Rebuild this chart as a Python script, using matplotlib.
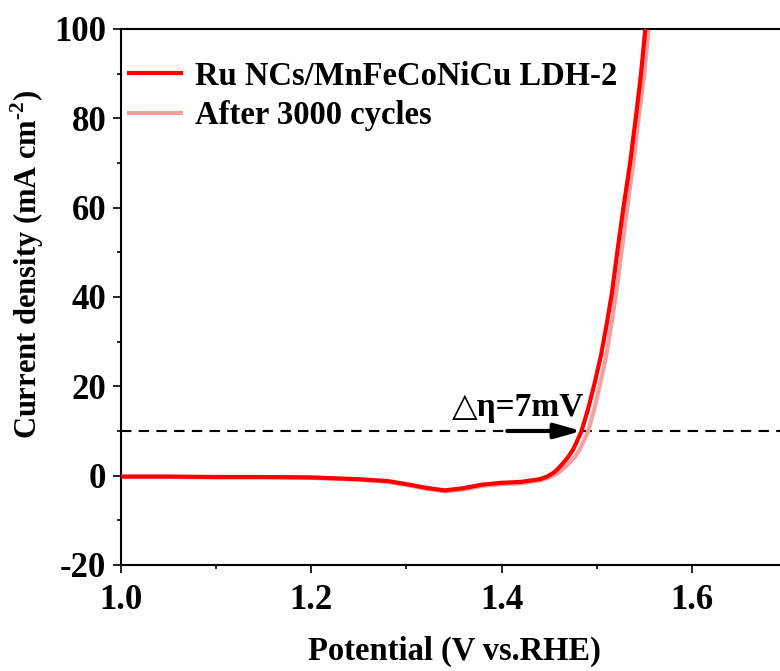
import matplotlib
matplotlib.use("Agg")
import matplotlib.pyplot as plt
from matplotlib.ticker import MultipleLocator

plt.rcParams["font.family"] = ["Liberation Serif", "DejaVu Serif"]
plt.rcParams["font.weight"] = "bold"
plt.rcParams["mathtext.fontset"] = "custom"
plt.rcParams["mathtext.rm"] = "Liberation Serif:bold"
plt.rcParams["mathtext.bf"] = "Liberation Serif:bold"
plt.rcParams["axes.unicode_minus"] = False

# LSV polarization curves, potential in V vs. RHE, current in mA cm^-2
pot_fresh = [1.00, 1.05, 1.10, 1.15, 1.20, 1.25, 1.28, 1.30, 1.32, 1.34, 1.36,
             1.38, 1.40, 1.42, 1.44, 1.448, 1.455, 1.46, 1.465, 1.47, 1.475,
             1.479, 1.484, 1.491, 1.4975, 1.5045, 1.5105, 1.516, 1.5215, 1.528,
             1.535, 1.5415, 1.5465, 1.551]
cur_fresh = [-0.2, -0.2, -0.3, -0.3, -0.4, -0.8, -1.2, -1.9, -2.7, -3.3, -2.8,
             -2.0, -1.6, -1.4, -0.8, -0.2, 0.7, 1.7, 2.9, 4.2, 5.8,
             7.6, 10.0, 15.0, 20.5, 27.0, 34.0, 41.0, 50.0, 60.0,
             70.0, 81.0, 90.0, 100.0]

pot_cycled = [1.00, 1.05, 1.10, 1.15, 1.20, 1.25, 1.28, 1.30, 1.32, 1.34, 1.36,
              1.38, 1.40, 1.42, 1.44, 1.450, 1.458, 1.465, 1.471, 1.477, 1.482,
              1.486, 1.491, 1.4975, 1.5035, 1.510, 1.5155, 1.5205, 1.526, 1.532,
              1.5385, 1.5445, 1.550, 1.5545]
cur_cycled = [-0.3, -0.3, -0.4, -0.4, -0.5, -0.9, -1.4, -2.1, -2.9, -3.5, -3.1,
              -2.3, -1.9, -1.7, -1.1, -0.4, 0.4, 1.6, 2.8, 4.2, 5.8,
              7.6, 10.0, 15.0, 20.5, 27.0, 34.0, 41.0, 50.0, 60.0,
              70.0, 81.0, 90.0, 100.0]

labels = ["Ru NCs/MnFeCoNiCu LDH-2", "After 3000 cycles"]
colors = ["#FF0000", "#F4A0A0"]

j_ref = 10.0           # reference current density for overpotential
eta_start = 1.406      # arrow tail
eta_end = 1.484        # arrow head (fresh curve at 10 mA cm^-2)

fig = plt.figure(figsize=(7.8, 6.71), dpi=100)
ax = fig.add_axes([0.1551, 0.158, 0.854, 0.7988])

ax.plot(pot_cycled, cur_cycled, color=colors[1], lw=3.0, label=labels[1], zorder=2)
ax.plot(pot_fresh, cur_fresh, color=colors[0], lw=3.0, label=labels[0], zorder=3)

ax.axhline(j_ref, color="black", lw=1.5, ls=(0, (5, 3.5)), zorder=1)
ax.annotate("", xy=(eta_end, j_ref), xytext=(eta_start, j_ref),
            arrowprops=dict(arrowstyle="-|>,head_length=1.6,head_width=0.45",
                            color="black", lw=3, shrinkA=0, shrinkB=0), zorder=4)
ax.text(1.417, 13.4, "\u25b3\u03b7=7mV", fontsize=24, fontweight="bold",
        ha="center", va="baseline")

ax.set_xlim(1.0, 1.7)
ax.set_ylim(-20, 100)
ax.xaxis.set_major_locator(MultipleLocator(0.2))
ax.xaxis.set_minor_locator(MultipleLocator(0.1))
ax.yaxis.set_major_locator(MultipleLocator(20))
ax.yaxis.set_minor_locator(MultipleLocator(10))
ax.tick_params(which="both", direction="out", width=1.2, labelsize=25)
ax.tick_params(which="major", length=5.5)
ax.tick_params(axis="x", which="major", pad=8)
ax.tick_params(axis="y", which="major", pad=5)
ax.tick_params(which="minor", length=3)
ax.set_xticklabels([f"{v:.1f}" for v in ax.get_xticks()])
for s in ax.spines.values():
    s.set_linewidth(1.5)
ax.spines["right"].set_visible(False)

ax.set_xlabel("Potential (V vs.RHE)", fontsize=23.5, fontweight="bold", labelpad=14)
ax.set_ylabel("Current density (mA cm$^{\\text{-}2}$)", fontsize=22, fontweight="bold")
ax.yaxis.set_label_coords(-0.112, 0.56)

handles, labs = ax.get_legend_handles_labels()
ax.legend(handles[::-1], labs[::-1], loc="upper left", bbox_to_anchor=(-0.02, 0.98),
          frameon=False, fontsize=23.5, handlelength=1.6, handletextpad=0.43,
          labelspacing=0.25, borderaxespad=0.25)

fig.savefig("out.png", dpi=100)
